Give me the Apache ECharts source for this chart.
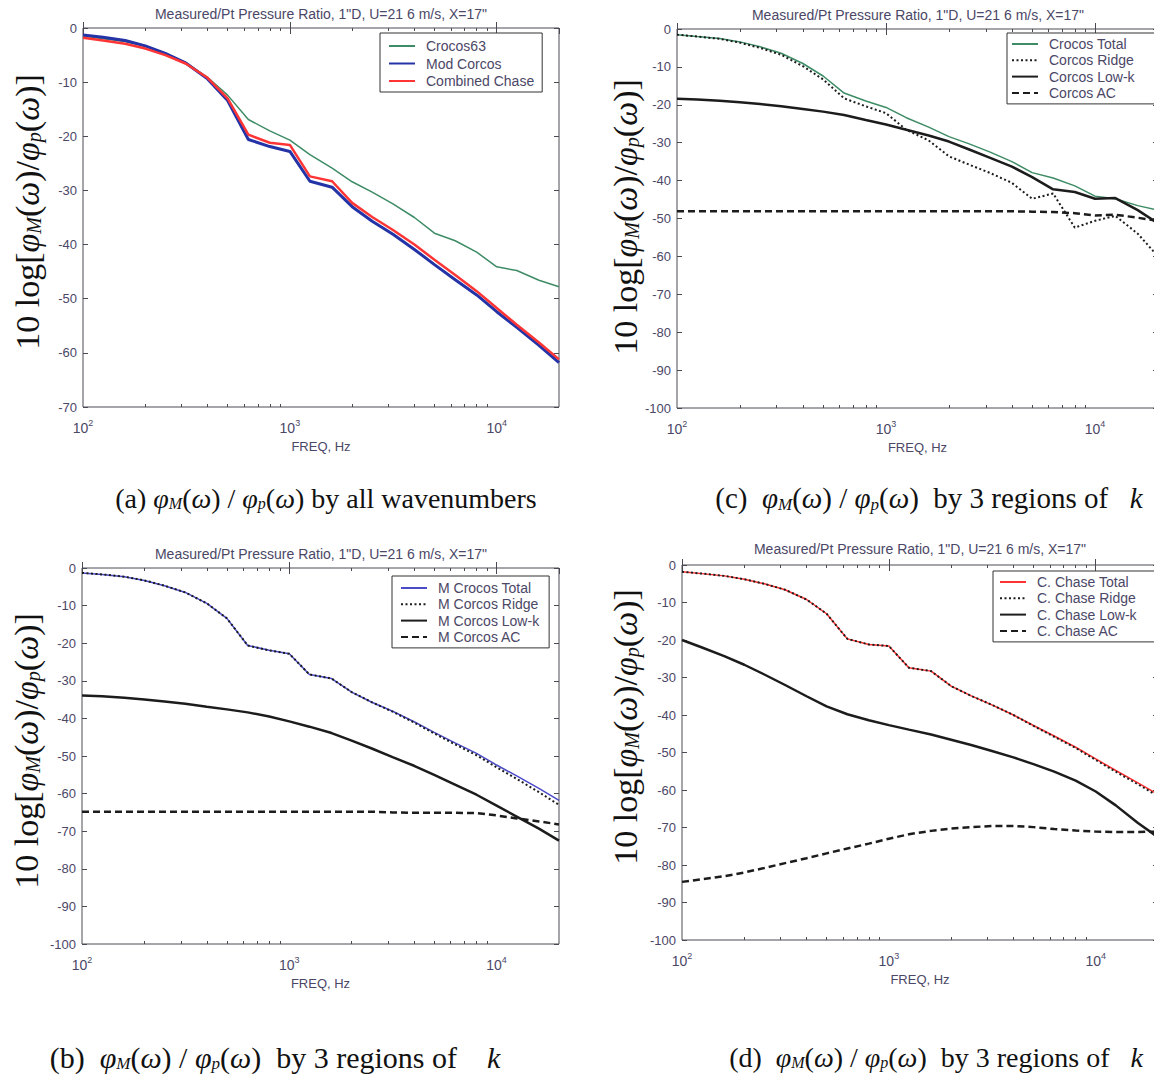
<!DOCTYPE html>
<html><head><meta charset="utf-8">
<script src="https://cdn.jsdelivr.net/npm/echarts@6/dist/echarts.min.js"></script>
<style>html,body{margin:0;padding:0;background:#fff;overflow:hidden}#c{width:1154px;height:1078px}</style>
</head><body><div id="c"></div>
<script>
// ---- data (third-octave band centre frequencies, Hz) ----
const freq = [100,125,160,200,250,315,400,500,630,800,1000,1250,1600,2000,2500,3150,4000,5000,6300,8000,10000,12500,16000,20000];

// panel (a)
const crocos63      = [-1.5,-2.0,-2.5,-3.4,-4.7,-6.4,-9.1,-12.4,-16.9,-19.0,-20.7,-23.4,-25.9,-28.4,-30.3,-32.5,-35.0,-37.9,-39.3,-41.4,-44.1,-44.8,-46.6,-47.8];
const modCorcos     = [-1.3,-1.7,-2.3,-3.3,-4.7,-6.5,-9.4,-13.4,-20.6,-21.9,-22.8,-28.3,-29.4,-33.0,-35.7,-38.1,-40.9,-43.7,-46.5,-49.3,-52.4,-55.3,-58.6,-61.8];
const combinedChase = [-1.8,-2.3,-2.9,-3.8,-5.0,-6.6,-9.2,-13.0,-19.7,-21.2,-21.6,-27.4,-28.3,-32.3,-34.9,-37.3,-40.0,-42.8,-45.6,-48.6,-51.7,-54.8,-58.1,-61.2];

// panel (c) Corcos by regions (total = crocos63)
const corcosRidge = [-1.5,-2.0,-2.6,-3.6,-5.0,-6.8,-9.8,-13.3,-18.3,-20.4,-22.2,-26.6,-29.4,-33.6,-35.8,-38.0,-40.6,-44.8,-43.4,-52.4,-50.6,-49.3,-54.0,-60.0];
const corcosLowK  = [-18.4,-18.6,-18.9,-19.3,-19.8,-20.4,-21.1,-21.8,-22.7,-24.0,-25.2,-26.6,-28.1,-29.7,-31.8,-34.0,-36.3,-39.1,-42.3,-43.0,-44.8,-44.6,-47.8,-51.3];
const corcosAC    = [-48.1,-48.1,-48.1,-48.1,-48.1,-48.1,-48.1,-48.1,-48.1,-48.1,-48.1,-48.1,-48.1,-48.1,-48.1,-48.1,-48.1,-48.2,-48.3,-48.6,-49.2,-49.0,-49.8,-50.6];

// panel (b) Mod Corcos by regions (total = modCorcos)
const mCorcosRidge = [-1.3,-1.7,-2.3,-3.3,-4.7,-6.5,-9.4,-13.4,-20.6,-21.9,-22.8,-28.3,-29.4,-33.0,-35.7,-38.2,-41.1,-44.0,-46.9,-49.8,-53.0,-56.1,-59.6,-63.0];
const mCorcosLowK  = [-33.9,-34.1,-34.5,-35.0,-35.5,-36.1,-36.9,-37.6,-38.4,-39.5,-40.8,-42.2,-43.9,-45.9,-48.0,-50.3,-52.6,-55.0,-57.6,-60.3,-63.2,-66.1,-69.3,-72.5];
const mCorcosAC    = [-64.8,-64.8,-64.8,-64.8,-64.8,-64.8,-64.8,-64.8,-64.8,-64.8,-64.8,-64.8,-64.8,-64.8,-64.8,-65.0,-65.1,-65.1,-65.1,-65.2,-65.8,-66.6,-67.4,-68.2];

// panel (d) Chase by regions (total = combinedChase)
const cChaseRidge = [-1.8,-2.3,-2.9,-3.8,-5.0,-6.6,-9.2,-13.0,-19.7,-21.2,-21.6,-27.4,-28.3,-32.3,-34.9,-37.3,-40.0,-42.9,-45.8,-48.8,-52.0,-55.1,-58.5,-61.6];
const cChaseLowK  = [-20.0,-22.0,-24.3,-26.6,-29.2,-32.0,-35.0,-37.7,-39.8,-41.4,-42.7,-43.9,-45.2,-46.6,-48.0,-49.6,-51.3,-53.1,-55.1,-57.5,-60.4,-64.1,-68.8,-72.6];
const cChaseAC    = [-84.5,-83.8,-83.0,-82.0,-80.8,-79.5,-78.2,-76.9,-75.6,-74.3,-73.0,-71.8,-70.9,-70.3,-69.9,-69.6,-69.6,-69.9,-70.4,-70.8,-71.1,-71.2,-71.2,-71.1];

// axes
const xMin = 100, xMax = 20000;
const xMinorTicks = [200,300,400,500,600,700,800,900,2000,3000,4000,5000,6000,7000,8000,9000];
const yRangeA = [-70, 0];
const yRangeOther = [-100, 0];
const yStep = 10;
const titleText = 'Measured/Pt Pressure Ratio, 1"D, U=21 6 m/s, X=17"';
const xName = 'FREQ, Hz';

// ---- styling ----
const TXT = '#4b4766';
const FRAME = '#4a4a55';
const BLACK = '#1c1c1c';
const SANS = '"Liberation Sans", Arial, sans-serif';
const SERIF = '"Liberation Serif", "Times New Roman", serif';

const panels = [
  { grid:{left:83, right:595, top:28, bottom:671}, yr:yRangeA, tx:321, ty:7,
    legend:{left:380, top:33, padding:[6,8,4,8], itemGap:3.5},
    series:[
      {name:'Crocos63', v:crocos63, c:'#3e8c66', w:1.5, t:'solid'},
      {name:'Mod Corcos', v:modCorcos, c:'#2433a6', w:3, t:'solid'},
      {name:'Combined Chase', v:combinedChase, c:'#ff3535', w:2.5, t:'solid'}
    ]},
  { grid:{left:677, right:-4, top:29, bottom:670}, yr:yRangeOther, tx:918, ty:8,
    legend:{left:1007, top:33, padding:[4,20,4,4], itemGap:2.3},
    series:[
      {name:'Crocos Total', v:crocos63, c:'#3e8c66', w:1.5, t:'solid'},
      {name:'Corcos Ridge', v:corcosRidge, c:BLACK, w:2, t:[2,2.5]},
      {name:'Corcos Low-k', v:corcosLowK, c:BLACK, w:2.5, t:'solid'},
      {name:'Corcos AC', v:corcosAC, c:BLACK, w:2.5, t:[7,4]}
    ]},
  { grid:{left:82, right:595, top:568, bottom:134}, yr:yRangeOther, tx:321, ty:547,
    legend:{left:392, top:576, padding:[5,10,4,8], itemGap:2.3},
    series:[
      {name:'M Crocos Total', v:modCorcos, c:'#4b4bc8', w:1.5, t:'solid'},
      {name:'M Corcos Ridge', v:mCorcosRidge, c:BLACK, w:2, t:[2,2.5]},
      {name:'M Corcos Low-k', v:mCorcosLowK, c:BLACK, w:2.5, t:'solid'},
      {name:'M Corcos AC', v:mCorcosAC, c:BLACK, w:2.5, t:[7,4]}
    ]},
  { grid:{left:682, right:-4, top:565, bottom:138}, yr:yRangeOther, tx:920, ty:542,
    legend:{left:993, top:571, padding:[4,24,4,6], itemGap:2.3},
    series:[
      {name:'C. Chase Total', v:combinedChase, c:'#ff3030', w:1.5, t:'solid'},
      {name:'C. Chase Ridge', v:cChaseRidge, c:BLACK, w:2, t:[2,2.5]},
      {name:'C. Chase Low-k', v:cChaseLowK, c:BLACK, w:2.5, t:'solid'},
      {name:'C. Chase AC', v:cChaseAC, c:BLACK, w:2.5, t:[7,4]}
    ]}
];

const grid = [], xAxis = [], yAxis = [], series = [], legend = [], title = [];
const logMin = Math.log10(xMin), logMax = Math.log10(xMax);
const minorLog = xMinorTicks.map(v => Math.log10(v));

panels.forEach((p, g) => {
  grid.push(Object.assign({show:true, borderColor:FRAME, borderWidth:1, backgroundColor:'#fff',
    outerBoundsMode:'none', containLabel:false}, p.grid));
  const base = xAxis.length;
  // main bottom log axis
  xAxis.push({type:'log', logBase:10, gridIndex:g, min:xMin, max:xMax, position:'bottom',
    name:xName, nameLocation:'middle', nameGap:33,
    nameTextStyle:{color:TXT, fontSize:13, fontFamily:SANS},
    axisLine:{show:false}, splitLine:{show:false},
    axisTick:{show:true, inside:true, length:6, lineStyle:{color:FRAME}},
    axisLabel:{margin:11, color:TXT, fontFamily:SANS, showMaxLabel:false, hideOverlap:false,
      formatter: v => '{b|10}{s|' + Math.round(Math.log10(v)) + '}',
      rich:{b:{fontSize:14, color:TXT, fontFamily:SANS}, s:{fontSize:9, color:TXT, fontFamily:SANS, padding:[0,0,10,0]}}}
  });
  // top log axis (ticks only)
  xAxis.push({type:'log', logBase:10, gridIndex:g, min:xMin, max:xMax, position:'top',
    axisLine:{show:false}, splitLine:{show:false}, axisLabel:{show:false},
    axisTick:{show:true, inside:true, length:6, lineStyle:{color:FRAME}}});
  // minor tick overlays (log10 space)
  ['bottom','top'].forEach(pos => {
    xAxis.push({type:'value', gridIndex:g, min:logMin, max:logMax, position:pos,
      axisLine:{show:false}, splitLine:{show:false}, axisLabel:{show:false},
      axisTick:{show:true, inside:true, length:3, customValues:minorLog, lineStyle:{color:FRAME}}});
  });
  const yb = yAxis.length;
  yAxis.push({type:'value', gridIndex:g, min:p.yr[0], max:p.yr[1], interval:yStep, position:'left',
    axisLine:{show:false}, splitLine:{show:false},
    axisTick:{show:true, inside:true, length:5, lineStyle:{color:FRAME}},
    axisLabel:{margin:6, color:TXT, fontSize:13, fontFamily:SANS}});
  yAxis.push({type:'value', gridIndex:g, min:p.yr[0], max:p.yr[1], interval:yStep, position:'right',
    axisLine:{show:false}, splitLine:{show:false}, axisLabel:{show:false},
    axisTick:{show:true, inside:true, length:5, lineStyle:{color:FRAME}}});

  p.series.forEach((s, k) => {
    series.push({name:s.name, type:'line', xAxisIndex:base, yAxisIndex:yb, symbol:'none',
      data: freq.map((f, i) => [f, s.v[i]]), z:2+k,
      lineStyle:{color:s.c, width:s.w, type:s.t}, itemStyle:{color:s.c}});
  });

  legend.push(Object.assign({
    orient:'vertical', selectedMode:false, data:p.series.map(s => s.name),
    itemWidth:26, itemHeight:13, backgroundColor:'#fff', borderColor:'#333', borderWidth:1, borderRadius:0,
    itemStyle:{opacity:0},
    textStyle:{fontSize:14, color:TXT, fontFamily:SANS, padding:[0,0,0,6]}
  }, p.legend));

  title.push({text:titleText, left:p.tx, top:p.ty, textAlign:'center', padding:0,
    textStyle:{fontSize:14, fontWeight:'normal', color:TXT, fontFamily:SANS}});
});

// big serif axis labels and captions
const richSerif = (size) => ({
  i:{fontStyle:'italic', fontSize:size, fontFamily:SERIF, fill:'#111'},
  s:{fontStyle:'italic', fontSize:Math.round(size*0.58), fontFamily:SERIF, fill:'#111', padding:[Math.round(size*0.4),0,0,0]}
});
const yLabelText = '10 log[{i|φ}{s|M}({i|ω})/{i|φ}{s|p}({i|ω})]';
const yLabelPos = [[27,212],[625,217],[26,751],[625,727]];
const NB = '\u00a0';
const captions = [
  ['(a) {i|φ}{s|M}({i|ω}) / {i|φ}{s|p}({i|ω}) by all wavenumbers', 326, 498, 28],
  ['(c)' + NB + ' {i|φ}{s|M}({i|ω}) / {i|φ}{s|p}({i|ω})' + NB + ' by 3 regions of' + NB + NB + ' {i|k}', 929, 498, 29],
  ['(b)' + NB + ' {i|φ}{s|M}({i|ω}) / {i|φ}{s|p}({i|ω})' + NB + ' by 3 regions of' + NB + NB + NB + ' {i|k}', 275, 1057, 30],
  ['(d)' + NB + ' {i|φ}{s|M}({i|ω}) / {i|φ}{s|p}({i|ω})' + NB + ' by 3 regions of' + NB + NB + ' {i|k}', 936, 1057, 28]
];
const graphic = [];
yLabelPos.forEach(([x,y]) => graphic.push({type:'text', x, y, rotation:Math.PI/2, z:10,
  style:{text:yLabelText, fontSize:34, fontFamily:SERIF, fill:'#111', align:'center', verticalAlign:'middle', rich:richSerif(34)}}));
captions.forEach(([t,x,y,fs]) => graphic.push({type:'text', x, y, z:10,
  style:{text:t, fontSize:fs, fontFamily:SERIF, fill:'#111', align:'center', verticalAlign:'middle', rich:richSerif(fs)}}));

const chart = echarts.init(document.getElementById('c'), null, {renderer:'svg'});
chart.setOption({animation:false, backgroundColor:'#fff', title, grid, xAxis, yAxis, series, legend, graphic});
</script></body></html>
